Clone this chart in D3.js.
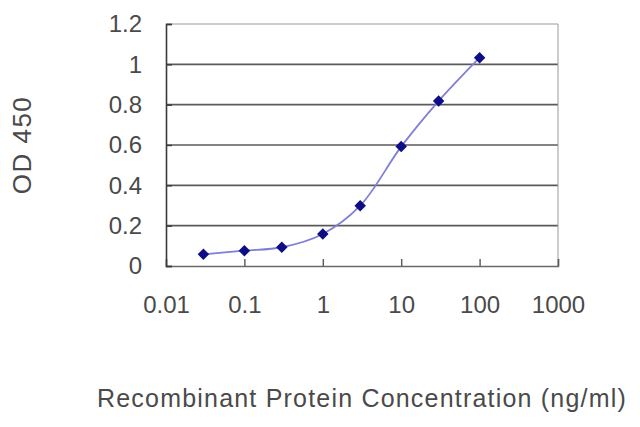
<!DOCTYPE html>
<html>
<head>
<meta charset="utf-8">
<script src="https://cdn.jsdelivr.net/npm/d3@7"></script>
<style>
  body { margin: 0; background: #fff; }
  text { font-family: "Liberation Sans", Arial, sans-serif; fill: #4a4a4a; }
</style>
</head>
<body>
<svg id="chart" width="640" height="427"></svg>
<script>
// concentrations (ng/ml) and OD readings
var concentrations = [0.03, 0.1, 0.3, 1, 3, 10, 30, 100];
var odValues = [0.058, 0.076, 0.093, 0.159, 0.299, 0.592, 0.818, 1.033];

var xTicks = [0.01, 0.1, 1, 10, 100, 1000];
var xTickLabels = ["0.01", "0.1", "1", "10", "100", "1000"];
var yTicks = [0, 0.2, 0.4, 0.6, 0.8, 1, 1.2];
var yTickLabels = ["0", "0.2", "0.4", "0.6", "0.8", "1", "1.2"];

var xTitle = "Recombinant Protein Concentration (ng/ml)";
var yTitle = "OD 450";

// plot box (window.top is taken, so use other names)
var plotLeft = 166, plotRight = 558, plotTop = 24, plotBottom = 266;

var svg = d3.select("#chart");

var x = d3.scaleLog().domain([0.01, 1000]).range([plotLeft, plotRight]);
var y = d3.scaleLinear().domain([0, 1.2]).range([plotBottom, plotTop]);

// gridlines
svg.append("g").selectAll("line")
  .data(yTicks.filter(function (d) { return d > 0 && d < 1.2; }))
  .enter().append("line")
  .attr("x1", plotLeft).attr("x2", plotRight)
  .attr("y1", function (d) { return y(d); })
  .attr("y2", function (d) { return y(d); })
  .attr("stroke", "#5a5a5a")
  .attr("stroke-width", 1.6);

// frame: top and right lighter
svg.append("path")
  .attr("d", "M" + plotLeft + "," + plotTop + "H" + plotRight + "V" + plotBottom)
  .attr("fill", "none")
  .attr("stroke", "#9a9a9a")
  .attr("stroke-width", 1);

// x axis, ticks point inward
var xAxis = svg.append("g")
  .attr("transform", "translate(0," + plotBottom + ")")
  .call(d3.axisBottom(x).tickValues(xTicks)
    .tickFormat(function (d, i) { return xTickLabels[i]; })
    .tickSize(-7).tickPadding(30));
xAxis.select(".domain").attr("stroke", "#6a6a6a").attr("stroke-width", 1.4);
xAxis.selectAll(".tick line").attr("stroke", "#5a5a5a").attr("stroke-width", 1.4);
xAxis.selectAll("text")
  .attr("font-size", 24)
  .attr("fill", "#4a4a4a")
  .style("font-family", "'Liberation Sans', Arial, sans-serif");

// y axis, ticks point inward
var yAxis = svg.append("g")
  .attr("transform", "translate(" + plotLeft + ",0)")
  .call(d3.axisLeft(y).tickValues(yTicks)
    .tickFormat(function (d, i) { return yTickLabels[i]; })
    .tickSize(-6).tickPadding(24));
yAxis.select(".domain").attr("stroke", "#3a3a3a").attr("stroke-width", 1.6);
yAxis.selectAll(".tick line").attr("stroke", "#3a3a3a").attr("stroke-width", 1.4);
yAxis.selectAll("text")
  .attr("font-size", 24)
  .attr("fill", "#4a4a4a")
  .style("font-family", "'Liberation Sans', Arial, sans-serif");

// data line
var line = d3.line()
  .x(function (d, i) { return x(concentrations[i]); })
  .y(function (d) { return y(d); })
  .curve(d3.curveCatmullRom);

svg.append("path")
  .datum(odValues)
  .attr("d", line)
  .attr("fill", "none")
  .attr("stroke", "#7f7fd6")
  .attr("stroke-width", 1.8);

// diamond markers
var diamond = d3.symbol().type(d3.symbolSquare).size(66);
svg.append("g").selectAll("path")
  .data(odValues)
  .enter().append("path")
  .attr("d", diamond)
  .attr("transform", function (d, i) {
    return "translate(" + x(concentrations[i]) + "," + y(d) + ") rotate(45)";
  })
  .attr("fill", "#0d0d86");

// axis titles
svg.append("text")
  .attr("x", (plotLeft + plotRight) / 2)
  .attr("y", 407)
  .attr("text-anchor", "middle")
  .attr("font-size", 25)
  .attr("letter-spacing", 1.2)
  .text(xTitle);

svg.append("text")
  .attr("transform", "translate(31," + (plotTop + plotBottom) / 2 + ") rotate(-90)")
  .attr("text-anchor", "middle")
  .attr("font-size", 26)
  .attr("letter-spacing", 1.5)
  .text(yTitle);
</script>
</body>
</html>
